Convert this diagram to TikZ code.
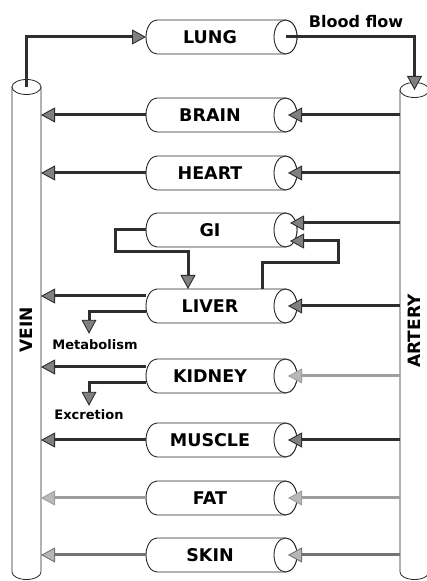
\documentclass[tikz,border=0pt]{standalone}
\usepackage{fontspec}
\setmainfont{DejaVu Sans}
\usetikzlibrary{arrows.meta,calc}
\definecolor{dk}{gray}{0.18}
\definecolor{md}{gray}{0.45}
\definecolor{lt}{gray}{0.62}
\definecolor{tipg}{gray}{0.5}
\definecolor{tiplt}{gray}{0.72}
\newcommand\drawcyl[1]{%
  \draw[cyl] ($(#1.north west)+(11,0)$) -- ($(#1.north east)+(11.5,0)$)
    arc[start angle=90,end angle=-90,x radius=11.5,y radius=17]
    -- ($(#1.south west)+(11,0)$)
    arc[start angle=270,end angle=90,x radius=11,y radius=17] -- cycle;
  \draw[cyl] ($(#1.east)+(11.5,0)$) ellipse[x radius=11.5,y radius=17];}
\newcommand\drawves[1]{%
  \draw[cyl, line width=0.8pt] (#1.north west) -- (#1.south west)
    arc[start angle=180,end angle=360,x radius=14.5,y radius=7.5]
    -- (#1.north east) -- cycle;
  \draw[cyl, line width=0.8pt] (#1.north) ellipse[x radius=14.5,y radius=7.5];}
\begin{document}
\begin{tikzpicture}[x=1pt,y=1pt,
  cyl/.style={draw=black!85, line width=0.9pt, fill=white},
  organ/.style={rectangle, minimum width=128pt, minimum height=34pt,
    inner sep=0pt, outer sep=0pt, font=\bfseries\fontsize{17.5}{18}\selectfont},
  vessel/.style={rectangle, minimum width=29pt, inner sep=0pt, outer sep=0pt,
    font=\bfseries\fontsize{17}{18}\selectfont},
  small/.style={font=\bfseries\fontsize{13}{14}\selectfont, inner sep=1pt},
  flow/.style={line width=3pt, draw=dk,
    -{Triangle[length=14pt,width=15pt,line width=0.9pt,fill=tipg]}},
  flowlt/.style={line width=3pt, draw=lt,
    -{Triangle[length=14pt,width=15pt,line width=0.9pt,fill=tiplt]}},
  flowmd/.style={line width=3pt, draw=md,
    -{Triangle[length=14pt,width=15pt,line width=0.9pt,fill=tiplt]}}
]
\useasboundingbox (0,0) rectangle (426,581);
\fill[white] (0,0) rectangle (426,581);

% vessels
\node[vessel, minimum height=485pt] (vein) at (26.5,251.5) {};
\node[vessel, minimum height=482pt] (artery) at (414.5,250) {};
\drawves{vein}
\drawves{artery}
\node[font=\bfseries\fontsize{17}{18}\selectfont] (veinlbl) at (vein.center) {\rotatebox{90}{VEIN}};
\node[font=\bfseries\fontsize{17}{18}\selectfont] (artlbl) at (artery.center) {\rotatebox{90}{ARTERY}};

% organs
\node[organ] (lung)   at (210,544) {};
\node[organ] (brain)  at (210,466) {};
\node[organ] (heart)  at (210,408) {};
\node[organ] (gi)     at (210,351) {};
\node[organ] (liver)  at (210,275) {};
\node[organ] (kidney) at (210,205) {};
\node[organ] (muscle) at (210,141) {};
\node[organ] (fat)    at (210,83)  {};
\node[organ] (skin)   at (210,26)  {};
\foreach \o in {lung,brain,heart,gi,liver,kidney,muscle,fat,skin}{\drawcyl{\o}}
\node[organ] at (lung)   {LUNG};
\node[organ] at (brain)  {BRAIN};
\node[organ] at (heart)  {HEART};
\node[organ] at (gi)     {GI};
\node[organ] at (liver)  {LIVER};
\node[organ] at (kidney) {KIDNEY};
\node[organ] at (muscle) {MUSCLE};
\node[organ] at (fat)    {FAT};
\node[organ] at (skin)   {SKIN};

% labels
\node[font=\bfseries\fontsize{16}{17}\selectfont, inner sep=0pt] (bf) at (356,559) {Blood flow};
\node[small] (metab) at (95,236) {Metabolism};
\node[small] (excr)  at (89,166) {Excretion};

% lung loop
\draw[flow] (vein.north) |- (lung.west);
\draw[flow] ($(lung.east)+(12,0)$) -| (artery.north);

% simple rows
\draw[flow] (brain.west) -- (vein.east |- brain.west);
\draw[flow] (artery.west |- brain.east) -- ($(brain.east)+(14,0)$);
\draw[flow] (heart.west) -- (vein.east |- heart.west);
\draw[flow] (artery.west |- heart.east) -- ($(heart.east)+(14,0)$);
\draw[flow] (muscle.west) -- (vein.east |- muscle.west);
\draw[flow] (artery.west |- muscle.east) -- ($(muscle.east)+(14,0)$);
\draw[flowlt] (fat.west) -- (vein.east |- fat.west);
\draw[flowlt] (artery.west |- fat.east) -- ($(fat.east)+(14,0)$);
\draw[flowmd] (skin.west) -- (vein.east |- skin.west);
\draw[flowmd] (artery.west |- skin.east) -- ($(skin.east)+(14,0)$);

% GI
\coordinate (giA) at ($(gi.east)+(16,7)$);
\draw[flow] (artery.west |- giA) -- (giA);
\draw[flow] ($(liver.center)+(52,17)$) -- ++(0,26) -| ($(gi.center)+(128,-11)$) -- ($(gi.east)+(16,-11)$);
\draw[flow] (gi.west) -| ++(-31,-22) -| ($(liver.center)+(-22,17)$);

% liver
\coordinate (lv) at ($(liver.west)+(0,10)$);
\draw[flow] (lv) -- (vein.east |- lv);
\coordinate (lm) at ($(liver.west)+(0,-6)$);
\draw[flow] (lm) -| ($(metab.north)+(-6,5)$);
\draw[flow] (artery.west |- liver.east) -- ($(liver.east)+(14,0)$);

% kidney
\coordinate (kv) at ($(kidney.west)+(0,9)$);
\draw[flow] (kv) -- (vein.east |- kv);
\coordinate (ke) at ($(kidney.west)+(0,-7)$);
\draw[flow] (ke) -| ($(excr.north)+(0,3)$);
\draw[flowlt] (artery.west |- kidney.east) -- ($(kidney.east)+(14,0)$);
\end{tikzpicture}
\end{document}
